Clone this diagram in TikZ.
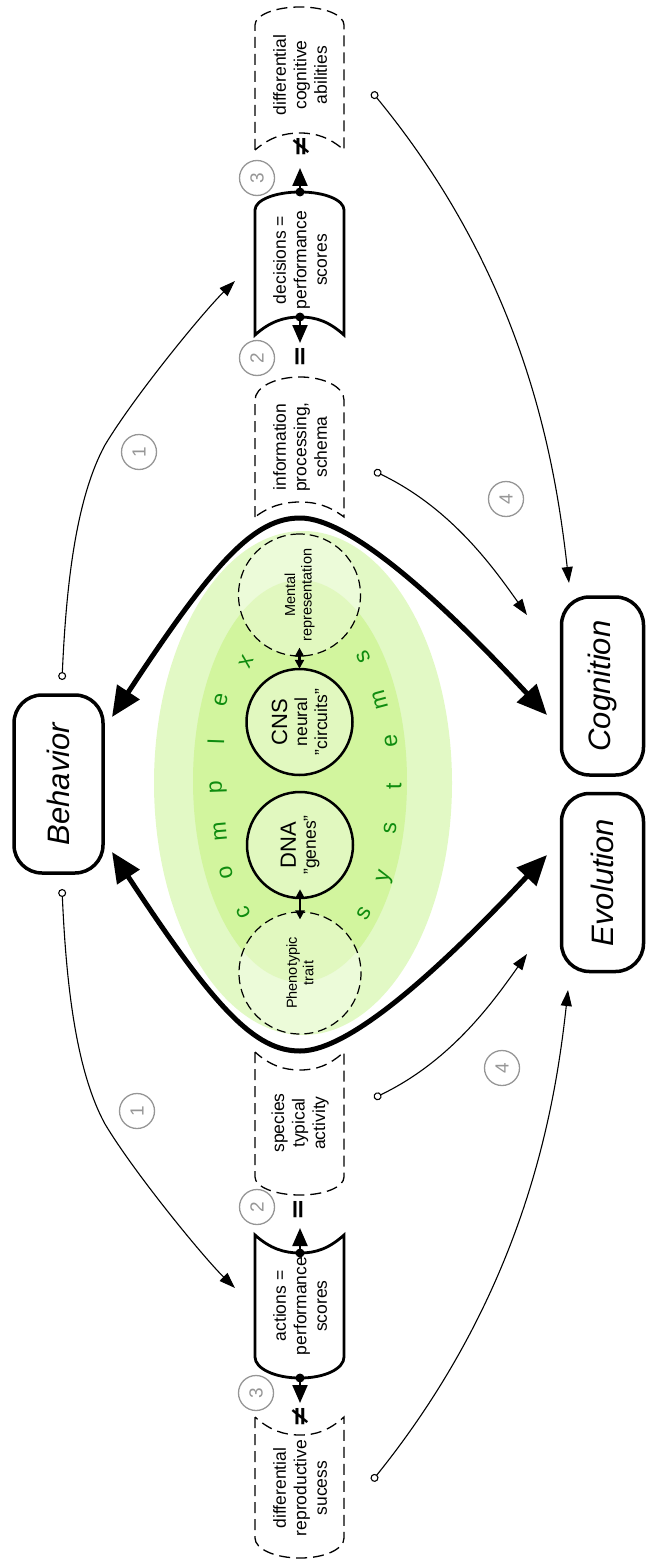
\documentclass[tikz,border=0pt]{standalone}
\usepackage{fontspec}
\setmainfont{Liberation Sans}
\newfontfamily\symfont{DejaVu Sans}
\usetikzlibrary{arrows.meta}
\definecolor{outergreen}{RGB}{226,249,197}
\definecolor{innergreen}{RGB}{210,245,158}
\definecolor{lettergreen}{RGB}{15,140,15}
\definecolor{numgray}{RGB}{150,150,150}

% tape shape bulging upwards: #1 side top, #2 middle top, #3 side bottom, #4 middle bottom
\newcommand\tapeup[4]{(255,#3) -- (255,#1) .. controls (255,{#1+0.55*(#2-#1)}) and (275,#2) .. (300,#2) .. controls (325,#2) and (344,{#1+0.55*(#2-#1)}) .. (344,#1) -- (344,#3) .. controls (329,{#3+0.75*(#4-#3)}) and (316,#4) .. (300,#4) .. controls (284,#4) and (270,{#3+0.75*(#4-#3)}) .. cycle}
% tape shape bulging downwards
\newcommand\tapedown[4]{(255,#1) -- (255,#3) .. controls (255,{#3+0.55*(#4-#3)}) and (275,#4) .. (300,#4) .. controls (325,#4) and (344,{#3+0.55*(#4-#3)}) .. (344,#3) -- (344,#1) .. controls (329,{#1+0.75*(#2-#1)}) and (316,#2) .. (300,#2) .. controls (284,#2) and (270,{#1+0.75*(#2-#1)}) .. cycle}

\begin{document}
\begin{tikzpicture}[x=1pt,y=-1pt,
  mainbox/.style={draw, line width=3.5pt, rounded corners=28pt, rotate=90, inner sep=0pt,
    font=\fontsize{31}{34}\selectfont\itshape, minimum width=178pt},
  tapetext/.style={rotate=90, align=center, inner sep=0pt, font=\fontsize{17.5}{20.5}\selectfont},
  dashedtape/.style={draw, line width=1.3pt, dash pattern=on 11pt off 6pt},
  solidtape/.style={draw, line width=2.8pt},
  corecirc/.style={circle, draw, line width=2.5pt, minimum size=106pt, inner sep=0pt,
    fill=white, fill opacity=0.35, text opacity=1, rotate=90, align=center,
    font=\fontsize{17.5}{20}\selectfont},
  halocirc/.style={circle, draw, line width=1.2pt, dash pattern=on 9pt off 5pt, minimum size=122pt,
    inner sep=0pt, fill=white, fill opacity=0.35, text opacity=1, rotate=90, align=center,
    font=\fontsize{14.5}{16.5}\selectfont},
  numcirc/.style={circle, draw=numgray, line width=1.3pt, minimum size=35pt, inner sep=0pt,
    text=numgray, rotate=90, font=\fontsize{19}{19}\selectfont},
  relsym/.style={rotate=90, inner sep=0pt, font=\symfont\bfseries\fontsize{26}{26}\selectfont},
  letter/.style={text=lettergreen, inner sep=0pt, font=\fontsize{23}{23}\selectfont},
  biglink/.style={line width=5pt, {Triangle[length=30pt,width=26pt]}-{Triangle[length=30pt,width=26pt]}},
  thinlink/.style={line width=1.1pt, {Circle[open,length=8pt,width=8pt]}-{Triangle[length=16pt,width=11pt]}},
  tapearrow/.style={line width=2.2pt, -{Triangle[length=18pt,width=15pt]}},
  corearrow/.style={line width=2.2pt, {Triangle[length=9pt,width=9pt]}-{Triangle[length=9pt,width=9pt]}}
]
\useasboundingbox (0,0) rectangle (647,1562);

% green background of the complex system
\fill[outergreen] (303,783) ellipse [x radius=149pt, y radius=252pt];
\fill[innergreen] (300,781) ellipse [x radius=107pt, y radius=201pt];

% inner circles
\node[halocirc] (ment) at (299.5,595) {Mental\\representation};
\node[halocirc] (phen) at (300,973) {Phenotypic\\trait};
\node[corecirc] (cns) at (299.5,722) {{\fontsize{22}{22}\selectfont CNS}\\neural\\"circuits"};
\node[corecirc] (dna) at (300,845) {{\fontsize{22}{22}\selectfont DNA}\\"genes"};
\draw[corearrow, shorten <=-1pt, shorten >=-9pt] (cns) -- (ment);
\draw[corearrow, shorten <=-10pt, shorten >=-8pt] (dna) -- (phen);

% letters of "complex systems"
\foreach \ch/\px/\py/\ang [count=\i] in {c/244/912/112, o/226/873/103, m/220/831/95, p/218/787/92, l/216/742/88, e/221/700/78, x/246/662/65}
  \node[letter, rotate=\ang] (cx\i) at (\px,\py) {\ch};
\foreach \ch/\px/\py/\ang [count=\i] in {s/364/913/60, y/386/877/73, s/390/828/85, t/394/786/90, e/391/741/97, m/380/700/105, s/364/657/115}
  \node[letter, rotate=\ang] (sy\i) at (\px,\py) {\ch};

% main boxes
\node[mainbox, minimum height=89pt] (beh) at (58.5,784) {Behavior};
\node[mainbox, minimum height=82pt] (cog) at (602.5,686) {Cognition};
\node[mainbox, minimum height=82pt] (evo) at (602.5,882.5) {Evolution};

% tapes above
\draw[dashedtape] \tapeup{25}{7}{150}{133};
\draw[solidtape] \tapeup{210}{192}{335}{317};
\draw[dashedtape] \tapeup{400}{377}{517}{502};
\node[tapetext] (dca) at (300,75) {differential\\cognitive\\abilities};
\node[tapetext] (dec) at (300,260) {decisions =\\performance\\scores};
\node[tapetext] (inf) at (300,447) {information\\processing,\\schema};

% tapes below
\draw[dashedtape] \tapedown{1052}{1070}{1177}{1195};
\draw[solidtape] \tapedown{1235}{1253}{1357}{1378};
\draw[dashedtape] \tapedown{1417}{1435}{1538}{1558};
\node[tapetext] (sta) at (300,1123) {species\\typical\\activity};
\node[tapetext] (act) at (300,1306) {actions =\\performance\\scores};
\node[tapetext] (drs) at (300,1488) {differential\\reproductive\\sucess};

% relation symbols
\node[relsym] (neqA) at (301,147) {≠};
\node[relsym] (eqA) at (302,357) {=};
\node[relsym] (eqB) at (300,1210) {=};
\node[relsym] (neqB) at (300,1417) {≠};

% arrows leaving the performance tapes
\coordinate (dDecTop) at (300,192);  \coordinate (tDecTop) at (300,168);
\coordinate (dDecBot) at (300,317);  \coordinate (tDecBot) at (300,343);
\coordinate (dActTop) at (300,1253); \coordinate (tActTop) at (300,1228);
\coordinate (dActBot) at (300,1378); \coordinate (tActBot) at (300,1403);
\draw[tapearrow] (dDecTop) -- (tDecTop);
\draw[tapearrow] (dDecBot) -- (tDecBot);
\draw[tapearrow] (dActTop) -- (tActTop);
\draw[tapearrow] (dActBot) -- (tActBot);
\foreach \d in {dDecTop,dDecBot,dActTop,dActBot} \fill (\d) circle (4.5pt);

% number badges
\node[numcirc] (n1a) at (139,452) {1};
\node[numcirc] (n1b) at (137,1111) {1};
\node[numcirc] (n2a) at (257,358) {2};
\node[numcirc] (n2b) at (257,1207) {2};
\node[numcirc] (n3a) at (257,178) {3};
\node[numcirc] (n3b) at (256,1393) {3};
\node[numcirc] (n4a) at (506,499) {4};
\node[numcirc] (n4b) at (502,1068) {4};

% thick feedback loops
\coordinate (bTop) at (112,717);  \coordinate (cTop) at (547,715);
\coordinate (bBot) at (112,852);  \coordinate (eBot) at (547,855);
\coordinate (pkTop) at (300,518); \coordinate (pkBot) at (300,1051);
\draw[biglink] (bTop) .. controls (215,560) and (255,518) .. (pkTop) .. controls (350,518) and (440,600) .. (cTop);
\draw[biglink] (bBot) .. controls (215,1009) and (255,1051) .. (pkBot) .. controls (350,1051) and (440,969) .. (eBot);

% thin links
\coordinate (sBehTop) at (62,680);  \coordinate (tDecIn) at (235,281);
\coordinate (sBehBot) at (62,889);  \coordinate (tActIn) at (235,1288);
\coordinate (sDca) at (372,92);     \coordinate (tCogA) at (569,583);
\coordinate (sInf) at (374,471);    \coordinate (tCogB) at (527,615);
\coordinate (sDrs) at (372,1481);   \coordinate (tEvoA) at (568,990);
\coordinate (sSta) at (374,1098);   \coordinate (tEvoB) at (527,954);
\draw[thinlink] (sBehTop) .. controls (66,590) and (75,500) .. (105,445) .. controls (135,395) and (205,310) .. (tDecIn);
\draw[thinlink] (sBehBot) .. controls (66,979) and (75,1069) .. (105,1124) .. controls (135,1174) and (205,1259) .. (tActIn);
\draw[thinlink] (sDca) .. controls (525,278) and (555,460) .. (tCogA);
\draw[thinlink] (sInf) .. controls (451,508) and (493,567) .. (tCogB);
\draw[thinlink] (sDrs) .. controls (525,1291) and (555,1109) .. (tEvoA);
\draw[thinlink] (sSta) .. controls (451,1061) and (493,1002) .. (tEvoB);
\end{tikzpicture}
\end{document}
